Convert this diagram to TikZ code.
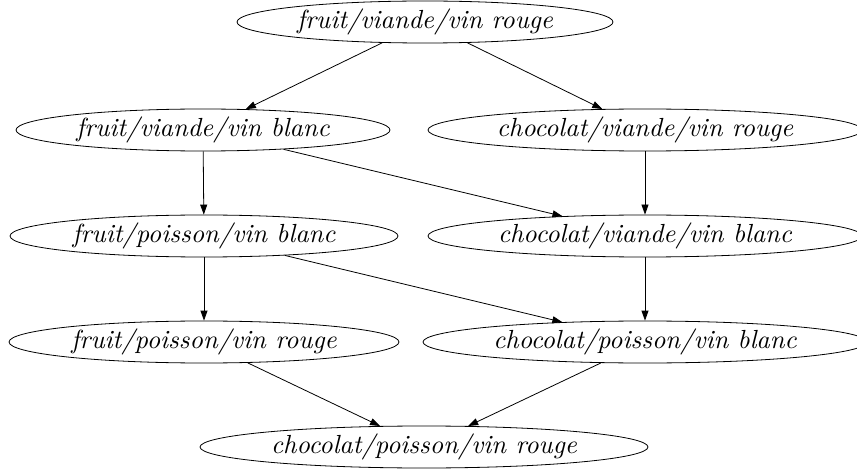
\documentclass[tikz,border=0pt]{standalone}
\usepackage{fontspec}
\newfontface\lmtenit{lmroman10-italic.otf}
\usetikzlibrary{shapes.geometric,arrows.meta}
\begin{document}
\begin{tikzpicture}[x=1pt,y=-1pt,
  st/.style={ellipse,draw,line width=0.8pt,inner sep=0pt,minimum height=42pt,
    font=\lmtenit\fontsize{26.2}{30}\selectfont},
  arr/.style={line width=0.8pt,-{Triangle[length=10pt,width=7pt]}}]
\useasboundingbox (0,0) rectangle (857,473);
\clip (0,0) rectangle (857,473);
\node[st,minimum width=376pt] (t) at (425,22) {fruit/viande/vin rouge};
\node[st,minimum width=374pt] (fvb) at (203,130) {fruit/viande/vin blanc};
\node[st,minimum width=434pt] (cvr) at (645,130) {chocolat/viande/vin rouge};
\node[st,minimum width=388pt] (fpb) at (204,236) {fruit/poisson/vin blanc};
\node[st,minimum width=434pt] (cvb) at (645,236) {chocolat/viande/vin blanc};
\node[st,minimum width=390pt] (fpr) at (204,342) {fruit/poisson/vin rouge};
\node[st,minimum width=444pt] (cpb) at (645,342) {chocolat/poisson/vin blanc};
\node[st,minimum width=448pt] (cpr) at (424,447) {chocolat/poisson/vin rouge};
\draw[arr] (t) -- (fvb);
\draw[arr] (t) -- (cvr);
\draw[arr] (fvb) -- (fpb);
\draw[arr] (fvb) -- (cvb);
\draw[arr] (cvr) -- (cvb);
\draw[arr] (fpb) -- (fpr);
\draw[arr] (fpb) -- (cpb);
\draw[arr] (cvb) -- (cpb);
\draw[arr] (fpr) -- (cpr);
\draw[arr] (cpb) -- (cpr);
\end{tikzpicture}
\end{document}
